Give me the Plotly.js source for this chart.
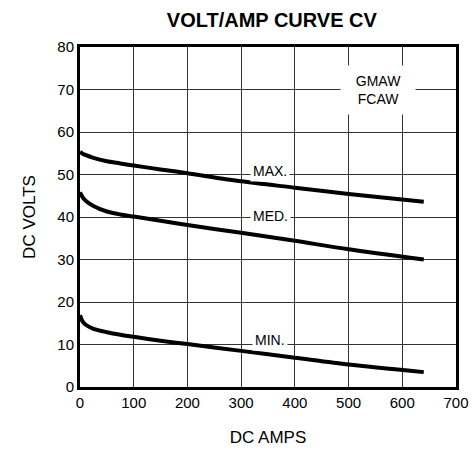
<!DOCTYPE html>
<html>
<head>
<meta charset="utf-8">
<script src="https://cdn.plot.ly/plotly-3.0.1.min.js"></script>
<style>html,body{margin:0;padding:0;background:#fff}#chart{width:472px;height:452px}</style>
</head>
<body>
<div id="chart"></div>
<script>
const amps = [0, 5, 10, 25, 50, 75, 100, 150, 200, 300, 400, 500, 640];
const maxVolts = [55.3, 54.9, 54.6, 53.9, 53.1, 52.6, 52.1, 51.2, 50.3, 48.4, 46.9, 45.4, 43.6];
const medVolts = [45.8, 44.6, 43.9, 42.6, 41.3, 40.6, 40.1, 39.1, 38.1, 36.3, 34.4, 32.4, 30.0];
const minVolts = [16.9, 15.4, 14.7, 13.7, 12.9, 12.3, 11.8, 10.9, 10.1, 8.5, 6.9, 5.3, 3.5];
const labels = ["MAX.", "MED.", "MIN."];
const xTicks = [0, 100, 200, 300, 400, 500, 600, 700];
const yTicks = [0, 10, 20, 30, 40, 50, 60, 70, 80];

const font = "Liberation Sans, Arial, sans-serif";
const series = [maxVolts, medVolts, minVolts];
const traces = series.map((v, i) => ({
  x: amps, y: v, type: "scatter", mode: "lines", name: labels[i],
  line: {color: "#000", width: 4, shape: "spline", smoothing: 0.8},
  hoverinfo: "skip", showlegend: false
}));

const layout = {
  width: 472, height: 452,
  margin: {l: 80, r: 16, t: 47, b: 65},
  paper_bgcolor: "#fff", plot_bgcolor: "#fff",
  font: {family: font, color: "#000", size: 15},
  title: {text: "<b>VOLT/AMP CURVE CV</b>", x: 0.576, xanchor: "center", y: 0.955, yanchor: "middle",
          font: {family: font, size: 20, color: "#000"}},
  xaxis: {range: [0, 700], tickvals: xTicks, ticktext: xTicks.map(String),
          showgrid: true, gridcolor: "#333", gridwidth: 1, zeroline: false,
          showline: true, linecolor: "#000", linewidth: 3, mirror: true,
          ticks: "", tickfont: {size: 15, family: font},
          title: {text: "DC AMPS", font: {size: 17, family: font}, standoff: 22}},
  yaxis: {range: [0, 80], tickvals: yTicks, ticktext: yTicks.map(String),
          showgrid: true, gridcolor: "#333", gridwidth: 1, zeroline: false,
          showline: true, linecolor: "#000", linewidth: 3, mirror: true,
          ticks: "", tickfont: {size: 15, family: font},
          title: {text: "DC VOLTS", font: {size: 17, family: font}, standoff: 18}},
  annotations: [
    {x: 354, y: 50.8, text: "MAX.", showarrow: false, bgcolor: "#fff", borderpad: 2, font: {size: 14, family: font}},
    {x: 354, y: 40.3, text: "MED.", showarrow: false, bgcolor: "#fff", borderpad: 2, font: {size: 14, family: font}},
    {x: 354, y: 11, text: "MIN.", showarrow: false, bgcolor: "#fff", borderpad: 2, font: {size: 14, family: font}},
    {x: 555, y: 70, text: "&nbsp;&nbsp;GMAW&nbsp;&nbsp;<br>FCAW", showarrow: false, bgcolor: "#fff", borderpad: 7, font: {size: 14, family: font}}
  ]
};
Plotly.newPlot("chart", traces, layout, {staticPlot: true, displayModeBar: false});
</script>
</body>
</html>
